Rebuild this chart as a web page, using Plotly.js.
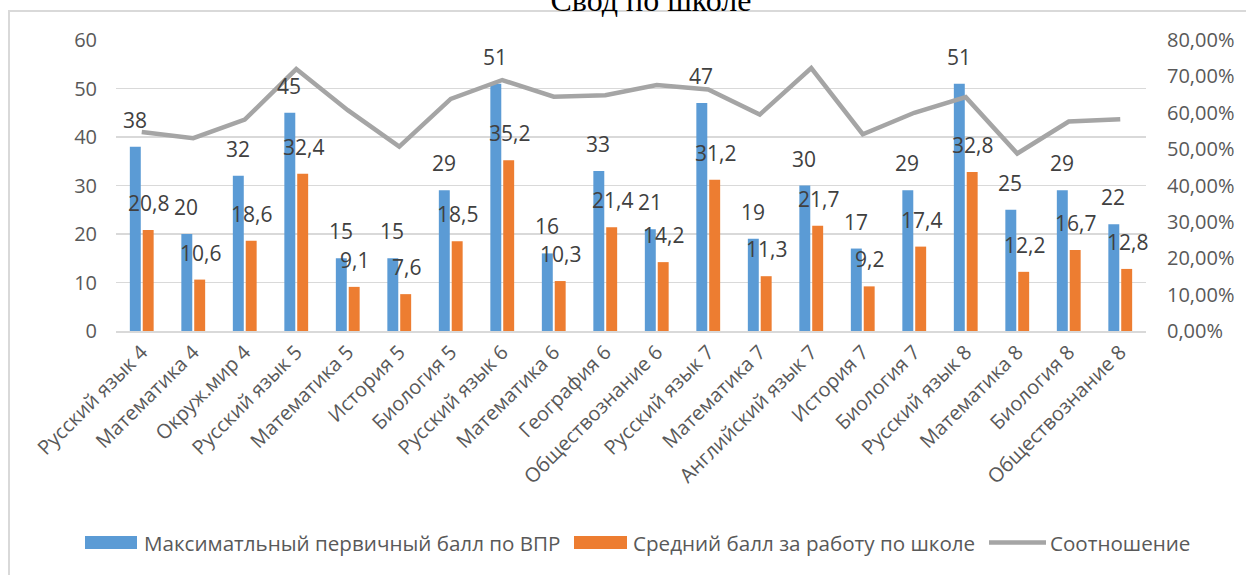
<!DOCTYPE html>
<html><head><meta charset="utf-8">
<script src="https://cdn.plot.ly/plotly-3.0.1.min.js"></script>
<style>
html,body{margin:0;padding:0;background:#fff;overflow:hidden;}
#frame{position:absolute;left:8px;top:10px;width:1400px;height:700px;border-left:2px solid #d9d9d9;border-top:2px solid #d9d9d9;}
#chart{position:absolute;left:0;top:0;width:1246px;height:575px;}
</style></head><body>
<div id="frame"></div>
<div id="chart"></div>
<script>
const categories = ["Русский язык 4","Математика 4","Окруж.мир 4","Русский язык 5","Математика 5","История 5","Биология 5","Русский язык 6","Математика 6","География 6","Обществознание 6","Русский язык 7","Математика 7","Английский язык 7","История 7","Биология 7","Русский язык 8","Математика 8","Биология 8","Обществознание 8"];
const maxScores = [38,20,32,45,15,15,29,51,16,33,21,47,19,30,17,29,51,25,29,22];
const avgScores = [20.8,10.6,18.6,32.4,9.1,7.6,18.5,35.2,10.3,21.4,14.2,31.2,11.3,21.7,9.2,17.4,32.8,12.2,16.7,12.8];
const ratio = [0.547,0.53,0.581,0.72,0.607,0.507,0.638,0.69,0.644,0.648,0.676,0.664,0.595,0.723,0.541,0.6,0.643,0.488,0.576,0.582];
const seriesNames = ["Максиматльный первичный балл по ВПР","Средний балл за работу по школе","Соотношение"];
const colors = ["#5b9bd5","#ed7d31","#a5a5a5"];

const W=1246,H=575,L=116,R=1146,T=40,B=331;
const px2x = p => (p-L)/(R-L);
const px2y = p => (B-p)/(B-T);
const fmt = v => String(v).replace('.', ',');

const traces = [
  {type:'bar', x:categories, y:maxScores, name:seriesNames[0], marker:{color:colors[0]}, hoverinfo:'skip'},
  {type:'bar', x:categories, y:avgScores, name:seriesNames[1], marker:{color:colors[1]}, hoverinfo:'skip'},
  {type:'scatter', mode:'lines', x:categories, y:ratio, name:seriesNames[2], yaxis:'y2', line:{color:colors[2], width:4.5}, hoverinfo:'skip'}
];

const annotations = [];
categories.forEach((c,i)=>{
  annotations.push({x:i, y:maxScores[i], xref:'x', yref:'y', text:fmt(maxScores[i]), showarrow:false, xshift:-7, yshift:27, yanchor:'middle', font:{family:'Open Sans', size:21, color:'#404040'}});
  annotations.push({x:i, y:avgScores[i], xref:'x', yref:'y', text:fmt(avgScores[i]), showarrow:false, xshift:7, yshift:27, yanchor:'middle', font:{family:'Open Sans', size:21, color:'#404040'}});
});

// custom legend
const legY = 542.5;
const legendItems = [
  {kind:'rect', x0:85, x1:137, tx:142, label:seriesNames[0], color:colors[0]},
  {kind:'rect', x0:574, x1:627, tx:631, label:seriesNames[1], color:colors[1]},
  {kind:'line', x0:989, x1:1046, tx:1048, label:seriesNames[2], color:colors[2]}
];
const shapes = [];
legendItems.forEach(it=>{
  if(it.kind==='rect'){
    shapes.push({type:'rect', xref:'paper', yref:'paper', x0:px2x(it.x0), x1:px2x(it.x1), y0:px2y(legY-6.5), y1:px2y(legY+6.5), fillcolor:it.color, line:{width:0}});
  } else {
    shapes.push({type:'line', xref:'paper', yref:'paper', x0:px2x(it.x0), x1:px2x(it.x1), y0:px2y(legY), y1:px2y(legY), line:{color:it.color, width:4.5}});
  }
  annotations.push({xref:'paper', yref:'paper', x:px2x(it.tx), y:px2y(legY), text:it.label, showarrow:false, xanchor:'left', yanchor:'middle', font:{family:'Open Sans', size:20.6, color:'#595959'}});
});

const layout = {
  width:W, height:H,
  margin:{l:L, r:W-R, t:T, b:H-B, pad:0},
  paper_bgcolor:'rgba(0,0,0,0)', plot_bgcolor:'rgba(0,0,0,0)',
  separators:', ',
  barmode:'group', bargap:0.5, bargroupgap:0.15,
  showlegend:false,
  font:{family:'Open Sans', size:20, color:'#595959'},
  title:{text:'Свод по школе', font:{family:'Liberation Serif', size:32, color:'#000000'}, x:651/W, xanchor:'center', xref:'container', yref:'container', y:1, yanchor:'middle'},
  xaxis:{type:'category', tickangle:-45, showline:true, linecolor:'#d9d9d9', linewidth:1.5, ticks:'', showgrid:false, tickfont:{family:'Open Sans', size:20, color:'#595959'}, range:[-0.5,19.5], fixedrange:true},
  yaxis:{range:[0,60], dtick:10, showgrid:true, gridcolor:'#d9d9d9', gridwidth:1.5, zeroline:false, ticks:'', showline:false, ticklabelstandoff:18, tickfont:{family:'Open Sans', size:20, color:'#595959'}},
  yaxis2:{range:[0,0.8], dtick:0.1, tickformat:'.2%', overlaying:'y', side:'right', showgrid:false, zeroline:false, ticks:'', ticklabelstandoff:20, tickfont:{family:'Open Sans', size:20, color:'#595959'}},
  annotations:annotations,
  shapes:shapes
};

Plotly.newPlot('chart', traces, layout, {staticPlot:true, displayModeBar:false});
</script>
</body></html>
